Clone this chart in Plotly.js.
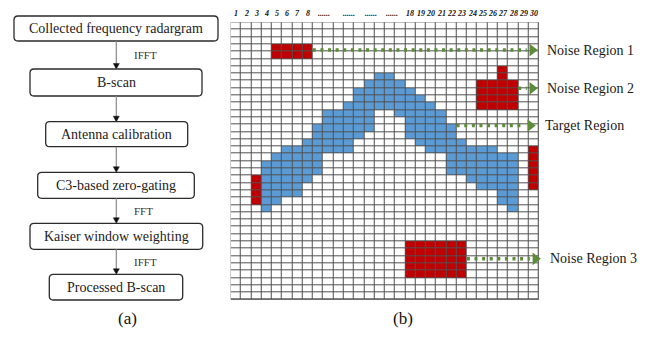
<!DOCTYPE html>
<html><head><meta charset="utf-8">
<script src="https://cdn.plot.ly/plotly-3.0.1.min.js"></script>
<style>html,body{margin:0;padding:0;background:#fff}#chart{width:652px;height:341px}</style>
</head><body><div id="chart"></div>
<script>
// ---------- data ----------
const nCols = 30;
const nRows = 38;
const colLabels = ['1','2','3','4','5','6','7','8','......','......','......','......','18','19','20','21','22','23','24','25','26','27','28','29','30'];
const colLabelPos = [1,2,3,4,5,6,7,8,9.6,12.0,14.2,16.25,18,19,20,21,22,23,24,25,26,27,28,29,30];

// target (blue) cells: [row, firstCol, lastCol]
const targetRow   = [7, 8, 9, 10,11,12,12,13,13,14,14,15,15,16,16,17,17,18,18,19,19,20,20,21,21,22,22,23,23,24,24,25,25];
const targetFrom  = [15,14,13,13,12,10,17,10,18, 9,18, 9,18, 8,19, 6,20, 5,22, 4,22, 4,22, 4,24, 4,25, 4,27, 4,27, 4,28];
const targetTo    = [16,17,18,19,20,14,21,14,21,14,22,13,22,12,23,12,26, 9,28, 9,28, 9,28, 8,28, 7,28, 7,28, 5,28, 4,28];

// noise (red) blocks
const noiseColFrom = [5, 25, 27, 3, 30, 18];
const noiseColTo   = [8, 28, 27, 3, 30, 23];
const noiseRowFrom = [3, 8, 6, 21, 17, 30];
const noiseRowTo   = [4, 11, 7, 24, 22, 34];

// region arrows
const regionNames = ['Noise Region 1','Noise Region 2','Target Region','Noise Region 3'];
const arrowRow    = [3.8, 9.05, 14.15, 32.4];
const arrowStart  = [8.0, 28.0, 22.0, 23.0];
const arrowTip    = [29.9, 29.9, 29.7, 30.2];

// flowchart
const steps = ['Collected frequency radargram','B-scan','Antenna calibration','C3-based zero-gating','Kaiser window weighting','Processed B-scan'];
const stepOps = ['IFFT','','','FFT','IFFT'];
const panelLabels = ['(a)','(b)'];

// ---------- build ----------
const W = 652, H = 341;
const gx0 = 230.7, colW = 10.27, gy0 = 22.3, rowH = 7.3;
const blue = '#5B9BD5', red = '#C00000', green = '#5C8C38', gridC = '#505050';
const serif = "'Liberation Serif', 'Times New Roman', serif";

const z = [];
for (let r = 0; r < nRows; r++) { z.push(new Array(nCols).fill(0)); }
targetRow.forEach((r, i) => { for (let c = targetFrom[i]; c <= targetTo[i]; c++) z[r][c-1] = 1; });
noiseColFrom.forEach((c0, i) => {
  for (let r = noiseRowFrom[i]; r <= noiseRowTo[i]; r++)
    for (let c = c0; c <= noiseColTo[i]; c++) z[r][c-1] = 2;
});
const xs = Array.from({length:nCols}, (_, i) => i + 0.5);
const ys = Array.from({length:nRows}, (_, i) => i + 0.5);

const traces = [{
  type:'heatmap', x: xs, y: ys, z: z, zmin:0, zmax:2, xgap:1, ygap:1, showscale:false, hoverinfo:'skip',
  colorscale:[[0,'#ffffff'],[0.333,'#ffffff'],[0.334,blue],[0.666,blue],[0.667,red],[1,red]]
}];
const triW = 11 / colW;
regionNames.forEach((n, i) => {
  traces.push({type:'scatter', mode:'lines', x:[arrowStart[i], arrowTip[i] - triW], y:[arrowRow[i], arrowRow[i]],
    line:{color:green, width:3.5, dash:'3px,4.6px'}, hoverinfo:'skip', showlegend:false});
  traces.push({type:'scatter', mode:'markers', x:[arrowTip[i] - triW/2], y:[arrowRow[i]], cliponaxis:false,
    marker:{symbol:'triangle-right', size:11, color:green}, hoverinfo:'skip', showlegend:false});
});

const shapes = [{type:'rect', xref:'x', yref:'y', x0:0, x1:nCols, y0:0, y1:nRows, fillcolor:gridC, line:{color:gridC, width:1}, layer:'below'}];
const annotations = [];

// pixel layout -> paper
const px = v => v / W, py = v => 1 - v / H;
const colPx = c => gx0 + (c - 0.5) * colW;
const rowPx = r => gy0 + r * rowH;

colLabels.forEach((t, i) => annotations.push({xref:'paper', yref:'paper', x: px(colPx(colLabelPos[i])), y: py(14), text:'<b><i>'+t+'</i></b>', showarrow:false,
  font:{family:serif, size:8, color:'#111'}, xanchor:'center', yanchor:'middle'}));
regionNames.forEach((n, i) => annotations.push({xref:'paper', yref:'paper', x: px(gx0 + arrowTip[i]*colW + 7), y: py(rowPx(arrowRow[i])), text:n, showarrow:false,
  xanchor:'left', yanchor:'middle', font:{family:serif, size:14, color:'#1a1a1a'}}));

function rr(x0, y0, x1, y1, r) {
  const P = (x, y) => px(x) + ',' + py(y);
  return 'M' + P(x0+r,y0) + ' L' + P(x1-r,y0) + ' Q' + P(x1,y0) + ' ' + P(x1,y0+r) + ' L' + P(x1,y1-r) + ' Q' + P(x1,y1) + ' ' + P(x1-r,y1) +
         ' L' + P(x0+r,y1) + ' Q' + P(x0,y1) + ' ' + P(x0,y1-r) + ' L' + P(x0,y0+r) + ' Q' + P(x0,y0) + ' ' + P(x0+r,y0) + ' Z';
}
const boxX0 = [14, 30, 45.7, 37.7, 30, 49.3], boxX1 = [218, 202, 187.7, 194.3, 202.7, 182.7];
const boxY0 = [16, 69, 121.7, 172.3, 223.3, 274.3], boxY1 = [41, 96, 146.7, 198.3, 249.3, 300];
const ax = 116.3;
steps.forEach((s, i) => {
  shapes.push({type:'path', xref:'paper', yref:'paper', path: rr(boxX0[i], boxY0[i], boxX1[i], boxY1[i], 4), line:{color:'#2b2b2b', width:1.3}, fillcolor:'rgba(0,0,0,0)'});
  annotations.push({xref:'paper', yref:'paper', x: px((boxX0[i]+boxX1[i])/2), y: py((boxY0[i]+boxY1[i])/2), text:s, showarrow:false,
    xanchor:'center', yanchor:'middle', font:{family:serif, size:14, color:'#222'}});
  if (i < steps.length - 1) {
    const a = boxY1[i], b = boxY0[i+1];
    shapes.push({type:'line', xref:'paper', yref:'paper', x0:px(ax), x1:px(ax), y0:py(a), y1:py(b-4), line:{color:'#8a8a8a', width:1.2}});
    shapes.push({type:'path', xref:'paper', yref:'paper', path:'M'+px(ax-3)+','+py(b-5.5)+' L'+px(ax+3)+','+py(b-5.5)+' L'+px(ax)+','+py(b)+' Z', fillcolor:'#111', line:{color:'#111', width:0.5}});
    if (stepOps[i]) annotations.push({xref:'paper', yref:'paper', x:px(131.5), y:py((a+b)/2), text:stepOps[i], showarrow:false,
      xanchor:'left', yanchor:'middle', font:{family:serif, size:11, color:'#333'}});
  }
});
annotations.push({xref:'paper', yref:'paper', x:px(116), y:py(330), text:panelLabels[0], showarrow:false, font:{family:serif, size:17, color:'#111'}});
annotations.push({xref:'paper', yref:'paper', x:px(403), y:py(330), text:panelLabels[1], showarrow:false, font:{family:serif, size:17, color:'#111'}});

const layout = {
  width:W, height:H, margin:{l:0, r:0, t:0, b:0}, paper_bgcolor:'#fff', plot_bgcolor:'rgba(0,0,0,0)', showlegend:false,
  xaxis:{domain:[gx0/W, (gx0 + nCols*colW)/W], range:[0, nCols], visible:false, fixedrange:true},
  yaxis:{domain:[1 - (gy0 + nRows*rowH)/H, 1 - gy0/H], range:[nRows, 0], visible:false, fixedrange:true},
  shapes:shapes, annotations:annotations
};
Plotly.newPlot('chart', traces, layout, {staticPlot:true, displayModeBar:false});
</script></body></html>
